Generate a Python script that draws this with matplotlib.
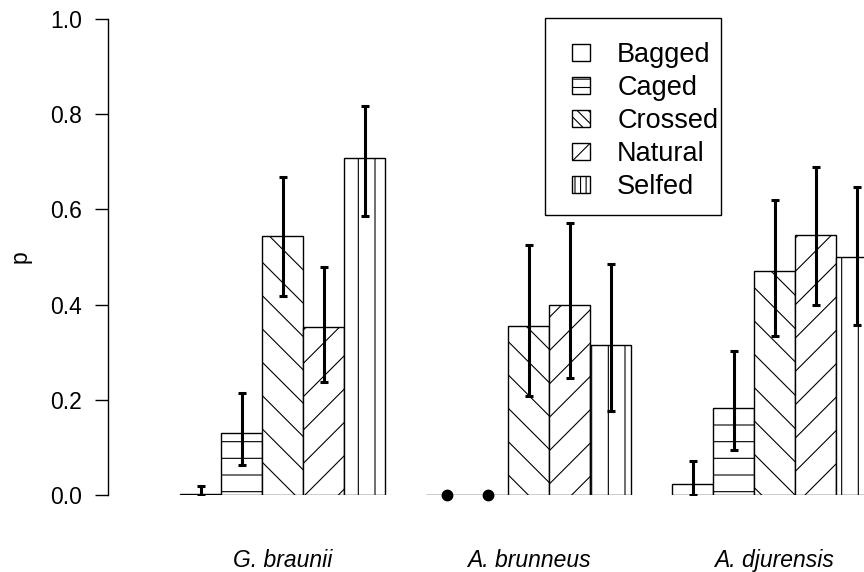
import numpy as np
import matplotlib
matplotlib.use("Agg")
import matplotlib.pyplot as plt
from matplotlib.patches import Rectangle

# species groups and treatments
species = ["G. braunii", "A. brunneus", "A. djurensis"]
treatments = ["Bagged", "Caged", "Crossed", "Natural", "Selfed"]
hatches = ["", "-", "\\", "/", "|"]
legend_hatches = ["", "--", "\\\\\\", "/", "|||"]

# estimated proportions per treatment (one value per species)
bagged = [0.003, 0.0, 0.024]
caged = [0.131, 0.0, 0.182]
crossed = [0.544, 0.356, 0.470]
natural = [0.352, 0.399, 0.546]
selfed = [0.708, 0.316, 0.500]

# interval bounds
bagged_lo, bagged_hi = [0.0, 0.0, 0.0], [0.018, 0.0, 0.071]
caged_lo, caged_hi = [0.064, 0.0, 0.094], [0.215, 0.0, 0.302]
crossed_lo, crossed_hi = [0.418, 0.207, 0.335], [0.668, 0.525, 0.620]
natural_lo, natural_hi = [0.237, 0.245, 0.400], [0.478, 0.571, 0.689]
selfed_lo, selfed_hi = [0.586, 0.176, 0.358], [0.817, 0.485, 0.647]

values = np.array([bagged, caged, crossed, natural, selfed])
lower = np.array([bagged_lo, caged_lo, crossed_lo, natural_lo, selfed_lo])
upper = np.array([bagged_hi, caged_hi, crossed_hi, natural_hi, selfed_hi])

plt.rcParams["font.family"] = ["Liberation Sans", "DejaVu Sans"]
plt.rcParams["hatch.linewidth"] = 0.8

fig = plt.figure(figsize=(8.64, 5.72), dpi=100)
ax = fig.add_axes([108 / 864, 77 / 572, 756 / 864, 476 / 572])

# R style beside barplot: bar width 1, one bar of space before each group
n = len(treatments)
starts = 1 + np.arange(len(species)) * (n + 1)
for i, name in enumerate(treatments):
    x = starts + i + 0.5
    ax.bar(x, values[i], width=1.0, facecolor="white", edgecolor="black",
           linewidth=1.0, hatch=hatches[i], label=name, zorder=2)
    ok = upper[i] > lower[i]
    mid = (upper[i] + lower[i]) / 2
    half = (upper[i] - lower[i]) / 2
    ax.errorbar(x[ok], mid[ok], yerr=half[ok], fmt="none", ecolor="black",
                elinewidth=2.2, capsize=3.0, capthick=2.2, zorder=3)
    ax.plot(x[~ok], lower[i][~ok], "o", color="black", markersize=7.5,
            zorder=4, clip_on=False)

ax.set_xlim(1 - 72 / 41, 1 + 684 / 41)
ax.set_ylim(0, 1.0)
ax.set_yticks(np.arange(0, 1.01, 0.2))
ax.set_yticklabels([f"{t:.1f}" for t in np.arange(0, 1.01, 0.2)])
ax.set_xticks(starts + n / 2)
ax.set_xticklabels(species, style="italic")
ax.tick_params(axis="y", labelsize=16.5, length=9.4, width=1.0, pad=9.4)
ax.tick_params(axis="x", labelsize=16.5, length=0, pad=39)
for side in ["top", "right", "bottom"]:
    ax.spines[side].set_visible(False)
ax.spines["left"].set_linewidth(1.0)
ax.set_ylabel("p", fontsize=16.5)
ax.yaxis.set_label_coords(-76 / 756, 0.5)

# legend: R draws the box with a wide left margin, so frame is drawn apart
leg = ax.legend(loc="upper left", bbox_to_anchor=(464 / 756, 453 / 476),
                fontsize=19.5, frameon=False, borderaxespad=0, borderpad=0,
                handlelength=0.67, handleheight=0.6, handletextpad=1.0,
                labelspacing=0.26)
for patch, h in zip(leg.get_patches(), legend_hatches):
    patch.set_hatch(h)
ax.add_patch(Rectangle((437 / 756, 280 / 476), 176 / 756, 197 / 476,
                       transform=ax.transAxes, facecolor="white",
                       edgecolor="black", linewidth=1.0, zorder=5,
                       clip_on=False))
leg.set_zorder(6)

fig.savefig("out.png", dpi=100)
